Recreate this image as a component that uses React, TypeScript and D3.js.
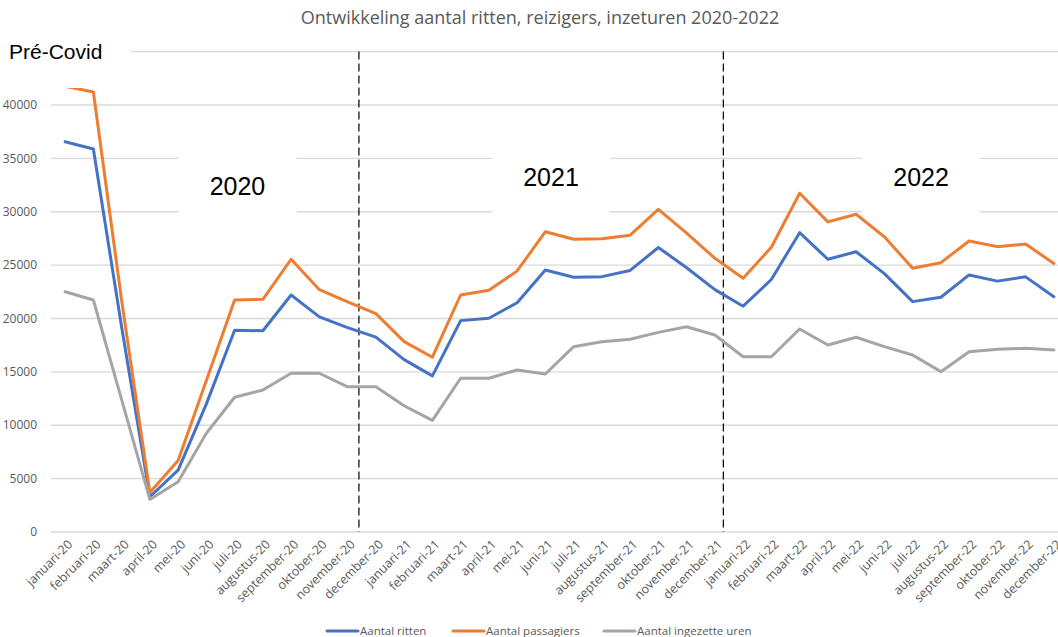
import { useEffect, useRef } from "react";
import * as d3 from "d3";

// categories
const months = [
  "januari-20", "februari-20", "maart-20", "april-20", "mei-20", "juni-20",
  "juli-20", "augustus-20", "september-20", "oktober-20", "november-20", "december-20",
  "januari-21", "februari-21", "maart-21", "april-21", "mei-21", "juni-21",
  "juli-21", "augustus-21", "september-21", "oktober-21", "november-21", "december-21",
  "januari-22", "februari-22", "maart-22", "april-22", "mei-22", "juni-22",
  "juli-22", "augustus-22", "september-22", "oktober-22", "november-22", "december-22",
];

// series values
const ritten = [
  36560, 35880, 19200, 3300, 5800, 12000, 18900, 18850, 22200, 20150, 19150, 18250,
  16150, 14620, 19800, 20020, 21480, 24540, 23860, 23920, 24500, 26650, 24750, 22700,
  21150, 23650, 28040, 25550, 26250, 24200, 21580, 21990, 24080, 23500, 23900, 22040,
];
const passagiers = [
  41750, 41220, 21700, 3700, 6700, 14200, 21730, 21800, 25550, 22700, 21550, 20450,
  17830, 16370, 22200, 22650, 24450, 28130, 27420, 27480, 27800, 30230, 28000, 25640,
  23770, 26670, 31730, 29050, 29760, 27650, 24700, 25230, 27260, 26730, 26980, 25150,
];
const uren = [
  22510, 21730, 12400, 3050, 4700, 9250, 12620, 13300, 14870, 14870, 13600, 13600,
  11830, 10450, 14400, 14400, 15180, 14800, 17360, 17830, 18050, 18700, 19230, 18450,
  16420, 16420, 19020, 17520, 18240, 17360, 16580, 15020, 16890, 17110, 17210, 17050,
];

// gridlines; the 45000 label sits under the "Pré-Covid" box, so labels stop at 40000
const yTicks = [0, 5000, 10000, 15000, 20000, 25000, 30000, 35000, 40000, 45000];
const yLabels = [0, 5000, 10000, 15000, 20000, 25000, 30000, 35000, 40000];

const seriesNames = ["Aantal ritten", "Aantal passagiers", "Aantal ingezette uren"];
const seriesColors = ["#4472C4", "#ED7D31", "#A5A5A5"];

// year annotations: label, fractional month index, value level
const years = ["2020", "2021", "2022"];
const yearIndex = [6.1, 17.2, 30.3];
const yearLevel = [32400, 33300, 33300];
// dashed year separators (fractional month index)
const dividerIndex = [10.4, 23.3];

const App = () => {
  const svgRef = useRef(null);

  useEffect(() => {
    const width = 1058;
    const height = 637;
    const font = "'Open Sans', sans-serif";
    const arial = "'Liberation Sans', Arial, sans-serif";

    d3.select(svgRef.current).selectAll("*").remove();

    const svg = d3
      .select(svgRef.current)
      .attr("width", width)
      .attr("height", height);

    svg.append("rect").attr("width", width).attr("height", height).attr("fill", "white");

    // scales
    const x = d3.scalePoint().domain(months).range([51, 1068]).padding(0.5);
    const xi = (i) => x(months[0]) + i * x.step();
    const y = d3.scaleLinear().domain([0, 45000]).range([532, 51.6]);

    // gridlines
    svg
      .append("g")
      .selectAll("line")
      .data(yTicks)
      .enter()
      .append("line")
      .attr("x1", 51)
      .attr("x2", 1068)
      .attr("y1", (d) => y(d))
      .attr("y2", (d) => y(d))
      .attr("stroke", "#d9d9d9")
      .attr("stroke-width", 1.3);

    // y tick labels
    svg
      .append("g")
      .selectAll("text")
      .data(yLabels)
      .enter()
      .append("text")
      .attr("x", 37)
      .attr("y", (d) => y(d))
      .attr("dy", "0.35em")
      .attr("text-anchor", "end")
      .attr("font-family", font)
      .attr("font-size", 12)
      .attr("fill", "#595959")
      .text((d) => d);

    // year text boxes
    const yg = svg.append("g");
    years.forEach((label, i) => {
      const cx = xi(yearIndex[i]);
      const cy = y(yearLevel[i]);
      yg.append("rect")
        .attr("x", cx - 59)
        .attr("y", cy - 45)
        .attr("width", 118)
        .attr("height", 84)
        .attr("fill", "white");
      yg.append("text")
        .attr("x", cx)
        .attr("y", cy)
        .attr("dy", "0.36em")
        .attr("text-anchor", "middle")
        .attr("font-family", arial)
        .attr("font-size", 25)
        .attr("fill", "black")
        .text(label);
    });

    // dashed separators
    svg
      .append("g")
      .selectAll("line")
      .data(dividerIndex)
      .enter()
      .append("line")
      .attr("x1", (d) => xi(d))
      .attr("x2", (d) => xi(d))
      .attr("y1", y(45000))
      .attr("y2", y(0))
      .attr("stroke", "black")
      .attr("stroke-width", 1.2)
      .attr("stroke-dasharray", "8,4");

    // lines
    const line = d3
      .line()
      .x((d, i) => x(months[i]))
      .y((d) => y(d));

    [ritten, passagiers, uren].forEach((values, k) => {
      svg
        .append("path")
        .datum(values)
        .attr("fill", "none")
        .attr("stroke", seriesColors[k])
        .attr("stroke-width", 3)
        .attr("stroke-linejoin", "round")
        .attr("stroke-linecap", "round")
        .attr("d", line);
    });

    // Pré-Covid text box
    svg.append("rect").attr("x", 0).attr("y", 30).attr("width", 131).attr("height", 58).attr("fill", "white");
    svg
      .append("text")
      .attr("x", 9)
      .attr("y", y(45000))
      .attr("dy", "0.36em")
      .attr("font-family", arial)
      .attr("font-size", 21)
      .attr("fill", "black")
      .text("Pré-Covid");

    // x labels
    svg
      .append("g")
      .selectAll("text")
      .data(months)
      .enter()
      .append("text")
      .attr("transform", (d) => `translate(${x(d) + 5},${y(0) + 10}) rotate(-45)`)
      .attr("text-anchor", "end")
      .attr("dy", "0.35em")
      .attr("font-family", font)
      .attr("font-size", 12.5)
      .attr("fill", "#595959")
      .text((d) => d);

    // title
    svg
      .append("text")
      .attr("x", 540)
      .attr("y", 18)
      .attr("dy", "0.35em")
      .attr("text-anchor", "middle")
      .attr("font-family", font)
      .attr("font-size", 18)
      .attr("fill", "#595959")
      .text("Ontwikkeling aantal ritten, reizigers, inzeturen 2020-2022");

    // legend
    const legendX = [327, 453, 604];
    const lg = svg.append("g").attr("transform", "translate(0,631)");
    seriesNames.forEach((name, k) => {
      lg.append("line")
        .attr("x1", legendX[k])
        .attr("x2", legendX[k] + 31)
        .attr("stroke", seriesColors[k])
        .attr("stroke-width", 3)
        .attr("stroke-linecap", "round");
      lg.append("text")
        .attr("x", legendX[k] + 33)
        .attr("dy", "0.35em")
        .attr("font-family", font)
        .attr("font-size", 11.5)
        .attr("fill", "#595959")
        .text(name);
    });
  }, []);

  return <svg ref={svgRef} style={{ position: "absolute", left: 0, top: 0, display: "block" }}></svg>;
};

export default App;
